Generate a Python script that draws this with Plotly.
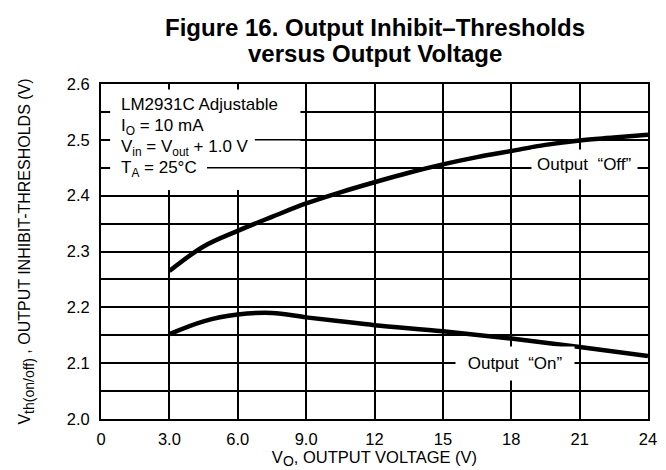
import plotly.graph_objects as go

# ---- data ----
vout_off = [3.0, 4.5, 6.0, 7.5, 9.0, 10.5, 12.0, 13.5, 15.0, 16.5, 18.0, 19.5, 21.0, 22.5, 24.0]
vth_off = [2.265, 2.309, 2.337, 2.362, 2.386, 2.406, 2.424, 2.441, 2.456, 2.469, 2.480, 2.491, 2.499, 2.504, 2.509]

vout_on = [3.0, 4.5, 6.0, 7.5, 9.0, 10.5, 12.0, 15.0, 18.0, 21.0, 24.0]
vth_on = [2.152, 2.175, 2.187, 2.190, 2.182, 2.175, 2.168, 2.157, 2.144, 2.129, 2.113]

x_tickvals = [0, 3, 6, 9, 12, 15, 18, 21, 24]
x_ticktext = ["0", "3.0", "6.0", "9.0", "12", "15", "18", "21", "24"]
y_tickvals = [2.0, 2.05, 2.1, 2.15, 2.2, 2.25, 2.3, 2.35, 2.4, 2.45, 2.5, 2.55, 2.6]
y_ticktext = ["2.0", "", "2.1", "", "2.2", "", "2.3", "", "2.4", "", "2.5", "", "2.6"]

title_lines = ["Figure 16. Output Inhibit–Thresholds", "versus Output Voltage"]
title_y = [1.17, 1.09]

info_lines = [
    "LM2931C Adjustable",
    "I<sub>O</sub> = 10 mA",
    "V<sub>in</sub> = V<sub>out</sub> + 1.0 V",
    "T<sub>A</sub> = 25°C",
]
info_y = [2.564, 2.523, 2.485, 2.447]

FONT = "Liberation Sans, Arial, Helvetica, sans-serif"
SUB = "<sub><span style='font-size:14px'>{}</span></sub>"

fig = go.Figure()
fig.add_trace(go.Scatter(x=vout_off, y=vth_off, mode="lines", line=dict(color="black", width=4.5, shape="spline"),
                         showlegend=False, hoverinfo="skip"))
fig.add_trace(go.Scatter(x=vout_on, y=vth_on, mode="lines", line=dict(color="black", width=4.5, shape="spline"),
                         showlegend=False, hoverinfo="skip"))

# white box that masks the grid behind the condition text
fig.add_shape(type="rect", xref="x", yref="y", x0=0.4, x1=8.75, y0=2.41, y1=2.59,
              fillcolor="white", line=dict(width=0), layer="between")
# grid segments that remain visible inside the text block
fig.add_shape(type="line", xref="x", yref="y", x0=6.75, x1=8.8, y0=2.5, y1=2.5,
              line=dict(color="black", width=1.5), layer="between")
fig.add_shape(type="line", xref="x", yref="y", x0=4.65, x1=8.8, y0=2.45, y1=2.45,
              line=dict(color="black", width=1.5), layer="between")

for txt, yy in zip(info_lines, info_y):
    fig.add_annotation(x=0.8, y=yy, xref="x", yref="y", text=txt, showarrow=False,
                       xanchor="left", yanchor="middle", font=dict(family=FONT, size=17, color="black"))

fig.add_annotation(x=21.2, y=2.455, xref="x", yref="y", text="Output  “Off”", showarrow=False,
                   xanchor="center", yanchor="middle", bgcolor="white", borderpad=5,
                   font=dict(family=FONT, size=17, color="black"))
fig.add_annotation(x=18.15, y=2.1, xref="x", yref="y", text="\u00a0Output  “On”\u00a0", showarrow=False,
                   xanchor="center", yanchor="middle", bgcolor="white", borderpad=7,
                   font=dict(family=FONT, size=17, color="black"))

for txt, yy in zip(title_lines, title_y):
    fig.add_annotation(x=0.5, y=yy, xref="paper", yref="paper", text="<b>" + txt + "</b>", showarrow=False,
                       xanchor="center", yanchor="middle", font=dict(family=FONT, size=24, color="black"))

fig.update_layout(
    width=666, height=470,
    margin=dict(l=93, r=26, t=76, b=59),
    paper_bgcolor="white", plot_bgcolor="white",
    font=dict(family=FONT, color="black"),
    xaxis=dict(range=[0, 24], tickvals=x_tickvals, ticktext=x_ticktext,
               showgrid=True, gridcolor="black", gridwidth=1.5, zeroline=False,
               showline=True, linecolor="black", linewidth=2, mirror=True,
               ticks="", ticklabelstandoff=4, tickfont=dict(family=FONT, size=16.5, color="black"),
               title=dict(text="V" + SUB.format("O") + ", OUTPUT VOLTAGE (V)", standoff=3,
                          font=dict(family=FONT, size=16.5, color="black"))),
    yaxis=dict(range=[2.0, 2.6], tickvals=y_tickvals, ticktext=y_ticktext,
               showgrid=True, gridcolor="black", gridwidth=1.5, zeroline=False,
               showline=True, linecolor="black", linewidth=2, mirror=True,
               ticks="", ticklabelstandoff=6, tickfont=dict(family=FONT, size=16.5, color="black"),
               title=dict(text="V" + SUB.format("th(on/off)") + " , OUTPUT INHIBIT-THRESHOLDS (V)", standoff=32,
                          font=dict(family=FONT, size=16, color="black"))),
)

fig.write_html("out.html")
